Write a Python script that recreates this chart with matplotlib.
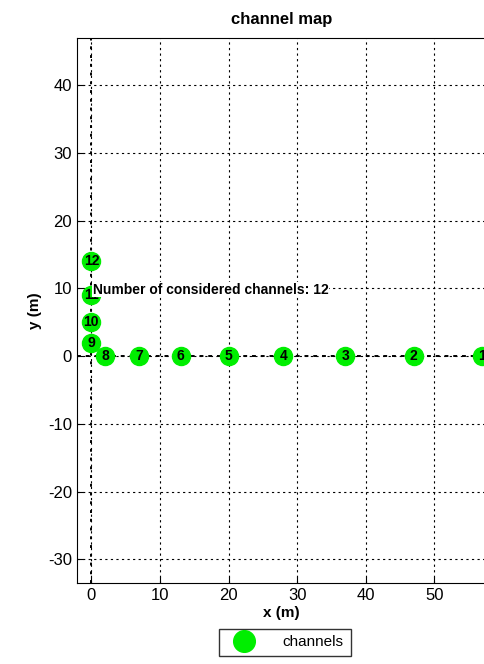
import matplotlib
matplotlib.use("Agg")
import matplotlib.pyplot as plt

plt.rcParams['font.family'] = ['Liberation Sans', 'DejaVu Sans']
plt.rcParams['axes.unicode_minus'] = False

# channel positions in metres
channel_ids = [1, 2, 3, 4, 5, 6, 7, 8, 9, 10, 11, 12]
channel_x = [57, 47, 37, 28, 20, 13, 7, 2, 0, 0, 0, 0]
channel_y = [0, 0, 0, 0, 0, 0, 0, 0, 2, 5, 9, 14]

x_ticks = [0, 10, 20, 30, 40, 50]
y_ticks = [-30, -20, -10, 0, 10, 20, 30, 40]

fig = plt.figure(figsize=(4.84, 6.64), dpi=100)
ax = fig.add_axes([0.159, 0.122, 0.846, 0.821])

ax.set_xlim(-2.1, 57.6)
ax.set_ylim(-33.5, 47.0)
ax.set_xticks(x_ticks)
ax.set_yticks(y_ticks)
ax.tick_params(direction='in', labelsize=12, length=4)
ax.grid(True, color='black', linestyle=(0, (2, 3)), linewidth=0.8)
ax.axhline(0, color='black', linestyle=(0, (2, 2.5)), linewidth=1.4, zorder=1)
ax.axvline(0, color='black', linestyle=(0, (1.5, 3)), linewidth=1.4, zorder=1)
ax.spines['right'].set_visible(False)

ax.plot(channel_x, channel_y, 'o', color='#00ee00', markersize=13,
        linestyle='none', label='channels', zorder=3)
for cid, cx, cy in zip(channel_ids, channel_x, channel_y):
    ax.text(cx, cy, str(cid), ha='center', va='center', fontsize=10,
            fontweight='bold', zorder=4)

ax.text(0.2, 9.8, 'Number of considered channels: %d' % len(channel_ids),
        fontsize=10, fontweight='bold', va='center', ha='left', zorder=5,
        bbox=dict(facecolor='white', edgecolor='none', pad=0.5))

ax.set_title('channel map', fontsize=12, fontweight='bold', pad=10)
ax.set_xlabel('x (m)', fontsize=11, fontweight='bold', labelpad=2)
ax.set_ylabel('y (m)', fontsize=11, fontweight='bold', labelpad=4)

leg = fig.legend(loc='center', bbox_to_anchor=(0.589, 0.0325), fontsize=11,
                 frameon=True, fancybox=False, edgecolor='black',
                 borderpad=0.45, handletextpad=1.4, handlelength=2.3,
                 markerscale=1.2)
leg.get_frame().set_linewidth(1.0)

fig.savefig('out.png', dpi=100)
